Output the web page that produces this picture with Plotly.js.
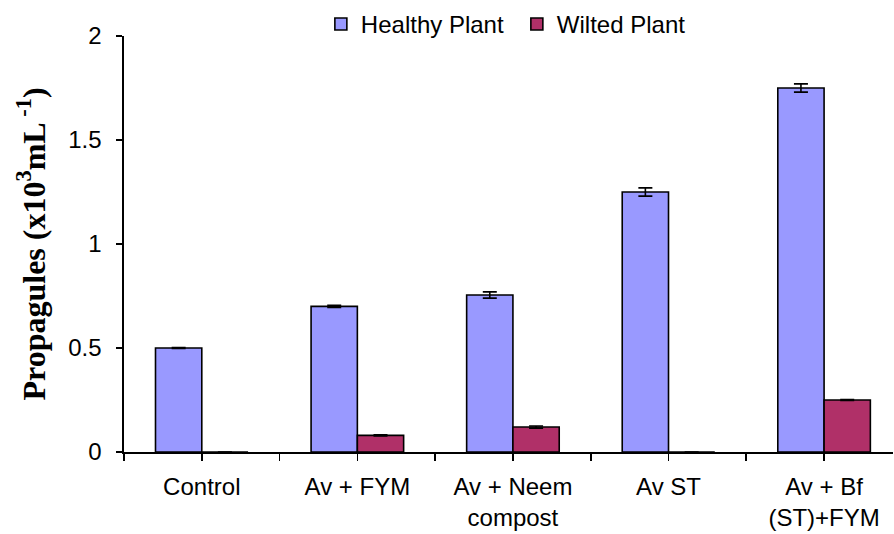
<!DOCTYPE html>
<html>
<head>
<meta charset="utf-8">
<script src="https://cdn.plot.ly/plotly-3.0.1.min.js"></script>
<style>html,body{margin:0;padding:0;background:#fff;}#chart{width:894px;height:534px;}</style>
</head>
<body>
<div id="chart"></div>
<script>
const categories = ["Control", "Av + FYM", "Av + Neem<br>compost", "Av ST", "Av + Bf<br>(ST)+FYM"];
const healthy = [0.50, 0.70, 0.755, 1.25, 1.75];
const healthyErr = [0.002, 0.005, 0.015, 0.02, 0.02];
const wilted = [0, 0.08, 0.12, 0, 0.25];
const wiltedErr = [0, 0.003, 0.005, 0, 0.002];
const seriesNames = ["Healthy Plant", "Wilted Plant"];
const yTicks = [0, 0.5, 1, 1.5, 2];
const yTickText = ["0", "0.5", "1", "1.5", "2"];

const idx = categories.map((c, i) => i);
const tickVals = [];
const tickText = [];
categories.forEach((c, i) => {
  tickVals.push(i - 0.5); tickText.push("");
  tickVals.push(i); tickText.push(c);
});

const lineStyle = {color: "#000", width: 1.6};
const errStyle = {type: "data", visible: true, color: "#000", thickness: 1.6, width: 7};

const traces = [
  {type: "bar", name: seriesNames[0], x: idx, y: healthy,
   error_y: Object.assign({array: healthyErr}, errStyle),
   marker: {color: "#9999FF", line: lineStyle}},
  {type: "bar", name: seriesNames[1], x: idx, y: wilted,
   error_y: Object.assign({array: wiltedErr}, errStyle),
   marker: {color: "#B03068", line: lineStyle}}
];

const layout = {
  width: 894, height: 534,
  margin: {l: 124, r: 1, t: 36, b: 82, autoexpand: false},
  paper_bgcolor: "#fff", plot_bgcolor: "#fff",
  font: {family: "Liberation Sans, Arial, sans-serif", size: 24, color: "#000"},
  barmode: "group", bargap: 0.405, bargroupgap: 0,
  showlegend: true,
  legend: {orientation: "h", x: 0.256, xanchor: "left", y: 1.028, yanchor: "middle",
           font: {size: 24}, entrywidth: 151, entrywidthmode: "pixels", bgcolor: "rgba(0,0,0,0)"},
  xaxis: {range: [-0.5, 4.443], tickvals: tickVals, ticktext: tickText,
          ticks: "outside", ticklen: 7, tickwidth: 1.6, tickcolor: "#000",
          showline: true, linecolor: "#000", linewidth: 2, showgrid: false, zeroline: false,
          tickfont: {size: 24}, ticklabelstandoff: 5},
  yaxis: {range: [0, 2], tickvals: yTicks, ticktext: yTickText,
          ticks: "outside", ticklen: 6, tickwidth: 1.6, tickcolor: "#000",
          showline: true, linecolor: "#000", linewidth: 1.6, showgrid: false, zeroline: false,
          tickfont: {size: 24}, ticklabelstandoff: 10,
          title: {text: "<b>Propagules (x10<sup>3</sup>mL<sup> -1</sup>)</b>",
                  font: {family: "Liberation Serif, Times New Roman, serif", size: 32}, standoff: 13}}
};

Plotly.newPlot("chart", traces, layout, {displayModeBar: false, staticPlot: true});
</script>
</body>
</html>
